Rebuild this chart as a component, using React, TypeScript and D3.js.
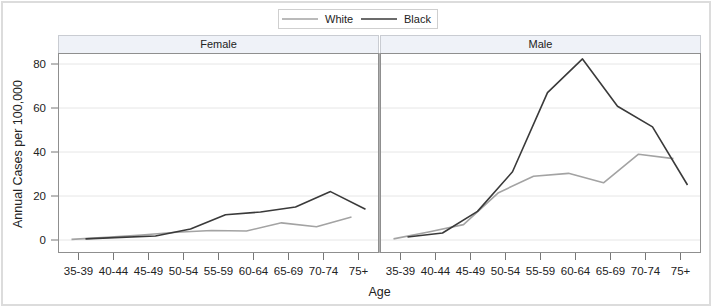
import React from "react";
import * as d3 from "d3";

const ages = ["35-39", "40-44", "45-49", "50-54", "55-59", "60-64", "65-69", "70-74", "75+"];
const panels = ["Female", "Male"];
const femaleWhite = [0.3, 1.2, 2.3, 3.5, 4.3, 4.1, 7.8, 6.0, 10.5];
const femaleBlack = [0.5, 1.2, 1.8, 5.0, 11.5, 12.7, 15.0, 22.0, 14.0];
const maleWhite = [0.5, 3.6, 7.0, 21.5, 29.0, 30.3, 26.0, 39.0, 37.0];
const maleBlack = [1.4, 3.2, 13.0, 31.0, 67.0, 82.3, 60.8, 51.4, 25.0];
const yTicks = [0, 20, 40, 60, 80];
const seriesNames = ["White", "Black"];

const W = 713;
const H = 308;
const FONT = "Liberation Sans, Arial, sans-serif";

const panelData: Record<string, number[][]> = {
  Female: [femaleWhite, femaleBlack],
  Male: [maleWhite, maleBlack],
};
const colors = ["#a3a3a3", "#3a3a3a"];
const offsets = [-7, 7];

export default function App() {
  const plotTop = 53;
  const plotBottom = 252;
  const headerTop = 35;
  const panelX = [58, 380];
  const panelW = 321;

  const y = d3.scaleLinear().domain([0, 80]).range([240, 64]);

  const line = (xs: d3.ScalePoint<string>, off: number) =>
    d3
      .line<number>()
      .x((_, i) => (xs(ages[i]) as number) + off)
      .y((d) => y(d));

  const legendItems = seriesNames;
  const legendX = 278;
  const legendW = 159;

  return (
    <svg
      width={W}
      height={H}
      style={{ position: "absolute", left: 0, top: 0, fontFamily: FONT }}
    >
      <rect x={0} y={0} width={W} height={H} fill="#fff" />
      <rect x={2} y={2} width={W - 5} height={H - 5} fill="none" stroke="#dcdcdc" strokeWidth={2} />

      {/* legend */}
      <rect x={legendX + 0.5} y={9.5} width={legendW} height={19} fill="#fff" stroke="#cfcfcf" />
      {legendItems.map((name, i) => {
        const x0 = legendX + 4 + i * 79;
        return (
          <g key={name}>
            <line x1={x0} x2={x0 + 36} y1={19} y2={19} stroke={colors[i]} strokeWidth={1.5} />
            <text x={x0 + 43} y={23} fontSize={11} fill="#222">
              {name}
            </text>
          </g>
        );
      })}

      {panels.map((p, pi) => {
        const x0 = panelX[pi];
        const xs = d3
          .scalePoint<string>()
          .domain(ages)
          .range([x0 + 20.5, x0 + panelW - 20.5]);
        return (
          <g key={p}>
            {/* header */}
            <rect
              x={x0 + 0.5}
              y={headerTop + 0.5}
              width={panelW - 1}
              height={plotTop - headerTop}
              fill="#eff2f8"
              stroke="#c9ccd2"
            />
            <text
              x={x0 + panelW / 2}
              y={headerTop + 13}
              textAnchor="middle"
              fontSize={11}
              fill="#222"
            >
              {p}
            </text>
            {/* grid */}
            {yTicks.map((t) => (
              <line
                key={t}
                x1={x0 + 1}
                x2={x0 + panelW - 1}
                y1={y(t)}
                y2={y(t)}
                stroke="#e6e6e6"
                strokeWidth={1}
              />
            ))}
            {/* series */}
            {panelData[p].map((vals, si) => (
              <path
                key={si}
                d={line(xs, offsets[si])(vals) || ""}
                fill="none"
                stroke={colors[si]}
                strokeWidth={1.6}
                strokeLinejoin="round"
              />
            ))}
            {/* plot border */}
            <rect
              x={x0 + 0.5}
              y={plotTop + 0.5}
              width={panelW - 1}
              height={plotBottom - plotTop}
              fill="none"
              stroke="#8f8f8f"
            />
            {/* x ticks */}
            {ages.map((a) => (
              <g key={a}>
                <line
                  x1={xs(a)}
                  x2={xs(a)}
                  y1={plotBottom + 1}
                  y2={plotBottom + 8}
                  stroke="#777"
                />
                <text
                  x={xs(a)}
                  y={plotBottom + 23}
                  textAnchor="middle"
                  fontSize={11.5}
                  fill="#222"
                >
                  {a}
                </text>
              </g>
            ))}
          </g>
        );
      })}

      {/* panel divider */}
      <line x1={379.5} x2={379.5} y1={plotTop} y2={plotBottom + 1} stroke="#b0b0b0" strokeWidth={1} />

      {/* y axis */}
      {yTicks.map((t) => (
        <g key={t}>
          <line x1={51} x2={58} y1={y(t)} y2={y(t)} stroke="#777" />
          <text x={46} y={y(t) + 4} textAnchor="end" fontSize={11.5} fill="#222">
            {t}
          </text>
        </g>
      ))}
      <text
        transform={`translate(22, ${(y(0) + y(80)) / 2 + 2}) rotate(-90)`}
        textAnchor="middle"
        fontSize={12.5}
        fill="#222"
      >
        Annual Cases per 100,000
      </text>
      <text x={(58 + 701) / 2} y={296} textAnchor="middle" fontSize={12.5} fill="#222">
        Age
      </text>
    </svg>
  );
}
